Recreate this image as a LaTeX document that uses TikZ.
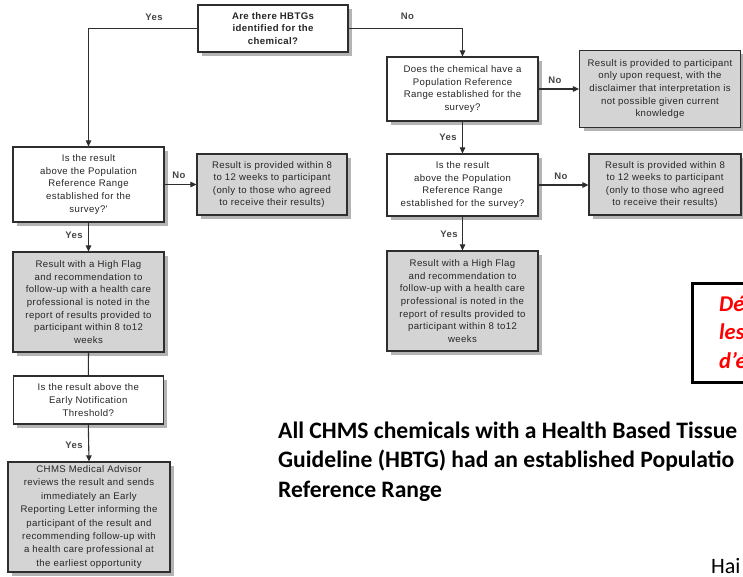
\documentclass[tikz,border=0pt]{standalone}
\usepackage{fontspec}
\setmainfont{Liberation Sans}
\newfontfamily\boxfont[LetterSpace=4]{Liberation Sans}
\newfontfamily\calfont{Carlito}
\usetikzlibrary{arrows.meta,shadows}
\definecolor{boxgray}{HTML}{D4D4D4}
\definecolor{shadowgray}{HTML}{B4B4B4}
\definecolor{edgecol}{HTML}{2E2E2E}
\definecolor{txtcol}{HTML}{262626}
\definecolor{lblcol}{HTML}{454545}
\definecolor{redtxt}{HTML}{FF0000}
\tikzset{
  base/.style={draw=edgecol, line width=1.2pt, align=center, inner sep=0pt,
    font=\boxfont\fontsize{9.6}{12.6}\selectfont, text=txtcol,
    drop shadow={shadow xshift=4pt, shadow yshift=-4pt, fill=shadowgray, opacity=1}},
  qbox/.style={base, fill=white},
  rbox/.style={base, fill=boxgray},
  conn/.style={draw=edgecol, line width=1.1pt},
  arr/.style={conn, -{Triangle[length=6pt,width=5.5pt]}},
  lbl/.style={font=\boxfont\bfseries\fontsize{9.5}{11}\selectfont, text=lblcol, inner sep=0pt},
  bigtxt/.style={font=\calfont\bfseries\fontsize{23.6}{29}\selectfont, anchor=base west, inner sep=0pt},
  redline/.style={font=\calfont\bfseries\itshape\fontsize{22.5}{29}\selectfont, text=redtxt, anchor=base west, inner sep=0pt},
}
\begin{document}
\begin{tikzpicture}[x=1pt,y=-1pt]
\useasboundingbox[fill=white] (0,0) rectangle (743,577);
\clip (0,0) rectangle (743,577);

% right column
\node[qbox, minimum width=150pt, minimum height=47pt] (top) at (273,28.5)
  {\bfseries Are there HBTGs\\\bfseries identified for the\\\bfseries chemical?};
\node[qbox, minimum width=151pt, minimum height=64pt] (q2) at (462.5,89)
  {Does the chemical have a\\Population Reference\\Range established for the\\survey?};
\node[rbox, minimum width=161pt, minimum height=77pt] (r0) at (660,89)
  {Result is provided to participant\\only upon request, with the\\disclaimer that interpretation is\\not possible given current\\knowledge};
\node[qbox, minimum width=151pt, minimum height=62pt] (q3) at (462.5,185)
  {Is the result\\above the Population\\Reference Range\\established for the survey?};
\node[rbox, minimum width=152pt, minimum height=61pt] (r3) at (665,184.5)
  {Result is provided within 8\\to 12 weeks to participant\\(only to those who agreed\\to receive their results)};
\node[rbox, minimum width=151pt, minimum height=100pt] (r4) at (462.5,301)
  {Result with a High Flag\\and recommendation to\\follow-up with a health care\\professional is noted in the\\report of results provided to\\participant within 8 to12\\weeks};

% left column
\node[qbox, minimum width=151pt, minimum height=75pt] (q1) at (88.5,184.5)
  {Is the result\\above the Population\\Reference Range\\established for the\\survey?'};
\node[rbox, minimum width=150pt, minimum height=61pt] (r1) at (272,184.5)
  {Result is provided within 8\\to 12 weeks to participant\\(only to those who agreed\\to receive their results)};
\node[rbox, minimum width=151pt, minimum height=100pt] (r2) at (88.5,302)
  {Result with a High Flag\\and recommendation to\\follow-up with a health care\\professional is noted in the\\report of results provided to\\participant within 8 to12\\weeks};
\node[qbox, minimum width=150pt, minimum height=48pt] (q4) at (88.3,400)
  {Is the result above the\\Early Notification\\Threshold?};
\node[rbox, minimum width=162pt, minimum height=110pt, font=\boxfont\fontsize{9.6}{13.4}\selectfont] (r5) at (89,517)
  {CHMS Medical Advisor\\reviews the result and sends\\immediately an Early\\Reporting Letter informing the\\participant of the result and\\recommending follow-up with\\a health care professional at\\the earliest opportunity};

% connectors
\draw[arr] (top.west) -| (q1.north);
\draw[arr] (top.east) -| (q2.north);
\draw[arr] (q2.east) -- (q2.east -| r0.west);
\draw[arr] (q2.south) -- (q3.north);
\draw[arr] (q3.east) -- (q3.east -| r3.west);
\draw[arr] (q3.south) -- (r4.north);
\draw[arr] (q1.east) -- (q1.east -| r1.west);
\draw[arr] (q1.south) -- (r2.north);
\draw[conn] (r2.south) -- (q4.north);
\draw[arr] (q4.south) -- (r5.north);

% labels
\node[lbl] (l1) at (154,17) {Yes};
\node[lbl] (l2) at (407.5,16) {No};
\node[lbl] (l3) at (555,80) {No};
\node[lbl] (l4) at (448,137) {Yes};
\node[lbl] (l5) at (561,176.5) {No};
\node[lbl] (l6) at (449,234) {Yes};
\node[lbl] (l7) at (179,175.5) {No};
\node[lbl] (l8) at (74,235.5) {Yes};
\node[lbl] (l9) at (74,445) {Yes};

% red box (cut by the page edge)
\draw[line width=3pt, black] (692,283) rectangle (780,382);
\node[redline] (d1) at (719,311) {Dé};
\node[redline] (d2) at (719,339.5) {les};
\node[redline] (d3) at (719,368) {d’é};

% statement
\node[bigtxt] (s1) at (278,438) {All CHMS chemicals with a Health Based Tissue};
\node[bigtxt] (s2) at (278,467) {Guideline (HBTG) had an established Populatio};
\node[bigtxt] (s3) at (278,497) {Reference Range};

\node[font=\calfont\fontsize{22}{25}\selectfont, anchor=base west, inner sep=0pt] (hai) at (711,573) {Hai};
\end{tikzpicture}
\end{document}
